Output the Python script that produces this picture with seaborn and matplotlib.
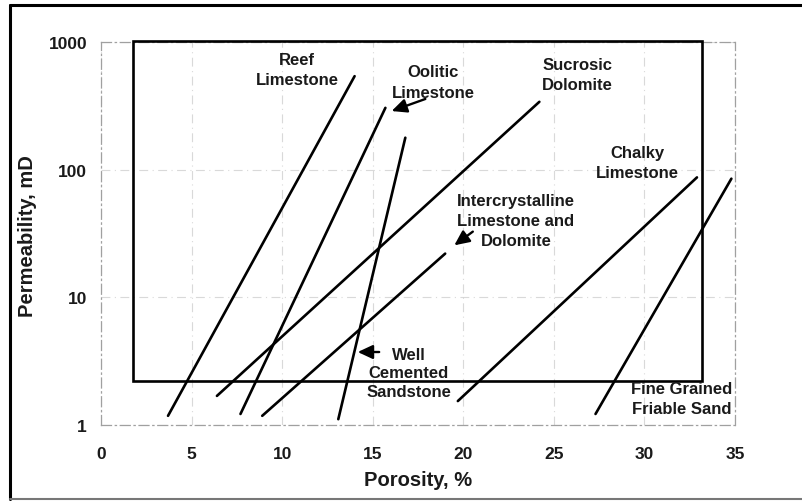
import matplotlib
matplotlib.use("Agg")
import matplotlib.pyplot as plt
from matplotlib.patches import Rectangle
from matplotlib.lines import Line2D
import seaborn as sns
import pandas as pd

sns.set_theme(style="white")
plt.rcParams["font.family"] = ["Liberation Sans", "DejaVu Sans"]

# Porosity / permeability trends by rock type (start and end of each line)
rock_types = [
    "Reef Limestone",
    "Oolitic Limestone",
    "Sucrosic Dolomite",
    "Well Cemented Sandstone",
    "Intercrystalline Limestone and Dolomite",
    "Chalky Limestone",
    "Fine Grained Friable Sand",
]
porosity_start = [3.7, 7.7, 6.4, 13.1, 8.9, 19.7, 27.3]
porosity_end = [14.0, 15.7, 24.2, 16.8, 19.0, 32.9, 34.8]
perm_start = [1.18, 1.22, 1.69, 1.11, 1.18, 1.54, 1.22]
perm_end = [540, 305, 340, 178, 22, 87, 85]

x_ticks = [0, 5, 10, 15, 20, 25, 30, 35]
y_ticks = [1, 10, 100, 1000]
y_tick_labels = ["1", "10", "100", "1000"]

rows = []
for name, x0, x1, y0, y1 in zip(rock_types, porosity_start, porosity_end, perm_start, perm_end):
    rows.append({"rock": name, "porosity": x0, "permeability": y0})
    rows.append({"rock": name, "porosity": x1, "permeability": y1})
df = pd.DataFrame(rows)

fig = plt.figure(figsize=(8.02, 5.02), dpi=100)
ax = fig.add_axes([101 / 802, 76 / 502, 634 / 802, 383 / 502])

sns.lineplot(
    data=df, x="porosity", y="permeability", hue="rock", units="rock",
    estimator=None, palette=["black"] * len(rock_types), linewidth=1.9,
    legend=False, ax=ax, sort=False,
)

ax.set_yscale("log")
ax.set_xlim(0, 35)
ax.set_ylim(1, 1000)
ax.set_xticks(x_ticks)
ax.set_xticklabels([str(t) for t in x_ticks], fontsize=12.5, fontweight="bold")
ax.set_yticks(y_ticks)
ax.set_yticklabels(y_tick_labels, fontsize=12.5, fontweight="bold")
ax.minorticks_off()
ax.tick_params(axis="x", length=0, pad=15, colors="#1a1a1a")
ax.tick_params(axis="y", length=0, pad=10, colors="#1a1a1a")

ax.grid(True, which="major", color="#b5b5b5", linewidth=0.8,
        linestyle=(0, (8, 4, 1, 4)), alpha=0.5)
for side in ["left", "bottom", "top", "right"]:
    ax.spines[side].set_color("#a0a0a0")
    ax.spines[side].set_linewidth(0.9)
    ax.spines[side].set_linestyle((0, (8, 3, 1, 3)))

ax.set_xlabel("Porosity, %", fontsize=14.5, fontweight="bold", color="#1a1a1a")
ax.set_ylabel("Permeability, mD", fontsize=14.5, fontweight="bold", color="#1a1a1a")
ax.xaxis.label.set_va("center")
ax.yaxis.label.set_va("center")
ax.xaxis.set_label_coords(0.5, -0.141)
ax.yaxis.set_label_coords(-0.1167, 0.496)

# Bold frame around the region of interest
ax.add_patch(Rectangle((1.75, 2.2), 33.2 - 1.75, 1020 - 2.2, fill=False,
                       edgecolor="black", linewidth=1.9, clip_on=False, zorder=3))

lab = dict(fontsize=12, fontweight="bold", ha="center", va="center",
           linespacing=1.42, color="#1a1a1a")
ax.text(10.82, 604, "Reef\nLimestone", **lab)
ax.text(18.33, 486, "Oolitic\nLimestone", **lab)
ax.text(26.28, 561, "Sucrosic\nDolomite", **lab)
ax.text(29.59, 113, "Chalky\nLimestone", **lab)
ax.text(22.91, 40.3, "Intercrystalline\nLimestone and\nDolomite", **lab)
ax.text(17.0, 2.56, "Well\nCemented\nSandstone", fontsize=12, fontweight="bold",
        ha="center", va="center", linespacing=1.3, color="#1a1a1a")
ax.text(32.07, 1.6, "Fine Grained\nFriable Sand", **lab)

arrow = dict(arrowstyle="-|>,head_length=0.75,head_width=0.35", color="black", lw=1.7)
ax.annotate("", xy=(15.9, 283), xytext=(18.05, 364), arrowprops=arrow)
ax.annotate("", xy=(19.38, 24.8), xytext=(20.65, 33.7), arrowprops=arrow)
ax.annotate("", xy=(14.02, 3.73), xytext=(15.51, 3.73), arrowprops=arrow)

# Outer border of the figure
fig.add_artist(Line2D([10 / 802, 1.0], [1 - 6 / 502, 1 - 6 / 502], color="black", lw=2.2))
fig.add_artist(Line2D([10 / 802, 10 / 802], [1 - 6 / 502, 1 - 500 / 502], color="black", lw=2.2))
fig.add_artist(Line2D([10 / 802, 1.0], [1 - 500 / 502, 1 - 500 / 502], color="#777777", lw=1.5))

fig.savefig("out.png", dpi=100)
